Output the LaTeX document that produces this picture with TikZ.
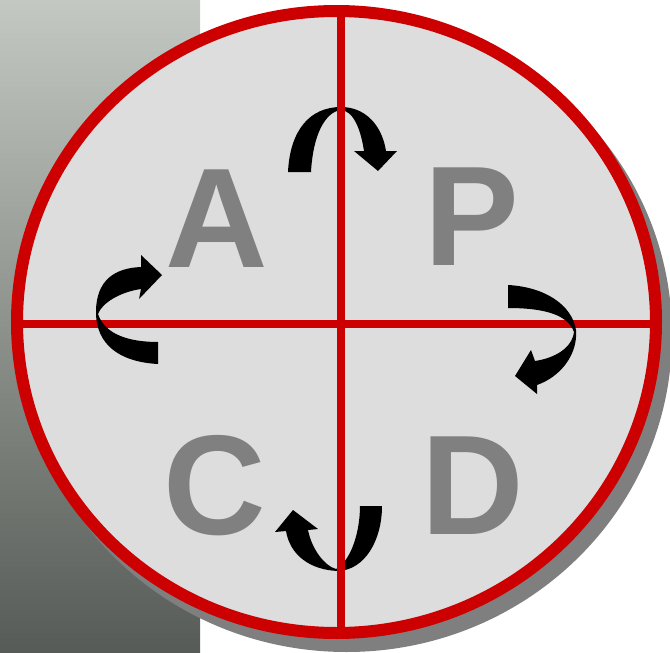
\documentclass[tikz,border=0pt]{standalone}
\usepackage{fontspec}
\setmainfont{Liberation Sans}
\definecolor{pdcared}{HTML}{CC0000}
\definecolor{fillgray}{HTML}{DDDDDD}
\definecolor{lettergray}{HTML}{808080}
\definecolor{shadowgray}{HTML}{7F7F7F}
\definecolor{paneltop}{HTML}{C4C8C2}
\definecolor{panelbottom}{HTML}{575B57}
\tikzset{
  letter/.style={text=lettergray, font=\bfseries\fontsize{142}{142}\selectfont, inner sep=0pt, anchor=center},
  redline/.style={draw=pdcared, line width=8pt},
  blockarrow/.style={fill=black}
}
\begin{document}
\begin{tikzpicture}[x=1pt,y=-1pt]
\useasboundingbox (0,0) rectangle (670,653);
% left gradient panel
\shade[top color=paneltop, bottom color=panelbottom] (0,0) rectangle (200,653);
% shadow
\fill[shadowgray] (346.5,335) ellipse [x radius=325.5, y radius=317];
% circle fill
\fill[fillgray] (336.5,322) ellipse [x radius=319.5, y radius=311];
% horizontal line (under arrows)
\coordinate (hl) at (15,323.5);
\coordinate (hr) at (658,323.5);
\draw[redline] (hl) -- (hr);
% letters
\node[letter] (A) at (217,219) {A};
\node[letter] (P) at (472,216.5) {P};
\node[letter] (C) at (215,485.5) {C};
\node[letter] (D) at (473,486) {D};
% top arrow (A -> P)
\fill[blockarrow] (288,172) .. controls (290,130) and (310,107) .. (341,107)
  .. controls (365,107) and (382,125) .. (386,151)
  -- (397,151) -- (378,171) -- (354,151) -- (364,151)
  .. controls (360,125) and (352,111) .. (341,110)
  .. controls (325,112) and (313,135) .. (311,172) -- cycle;
% right arrow (P -> D)
\fill[blockarrow] (508,285) .. controls (545,287) and (572,305) .. (576,330)
  .. controls (578,355) and (560,377) .. (537,385)
  -- (537,394) -- (515,376) -- (531,350) -- (535,361)
  .. controls (555,358) and (572,348) .. (574,332)
  .. controls (568,315) and (545,308) .. (508,308) -- cycle;
% bottom arrow (D -> C)
\fill[blockarrow] (382,506) .. controls (382,540) and (365,570) .. (338,571)
  .. controls (310,570) and (290,555) .. (286,531)
  -- (275,532) -- (293,510) -- (318,529) -- (308,530)
  .. controls (312,550) and (325,566) .. (336,569)
  .. controls (352,560) and (360,530) .. (360,506) -- cycle;
% left arrow (C -> A)
\fill[blockarrow] (158,364) .. controls (120,362) and (96,345) .. (96,312)
  .. controls (96,280) and (115,268) .. (141,267)
  -- (141,255) -- (162,275) -- (139,299) -- (141,289)
  .. controls (120,292) and (102,303) .. (98,314)
  .. controls (105,335) and (130,342) .. (158,342) -- cycle;
% vertical line (over arrows)
\coordinate (vt) at (341,12);
\coordinate (vb) at (341,632);
\draw[redline] (vt) -- (vb);
% red outline
\draw[pdcared, line width=12pt] (336.5,322) ellipse [x radius=319.5, y radius=311];
\end{tikzpicture}
\end{document}
